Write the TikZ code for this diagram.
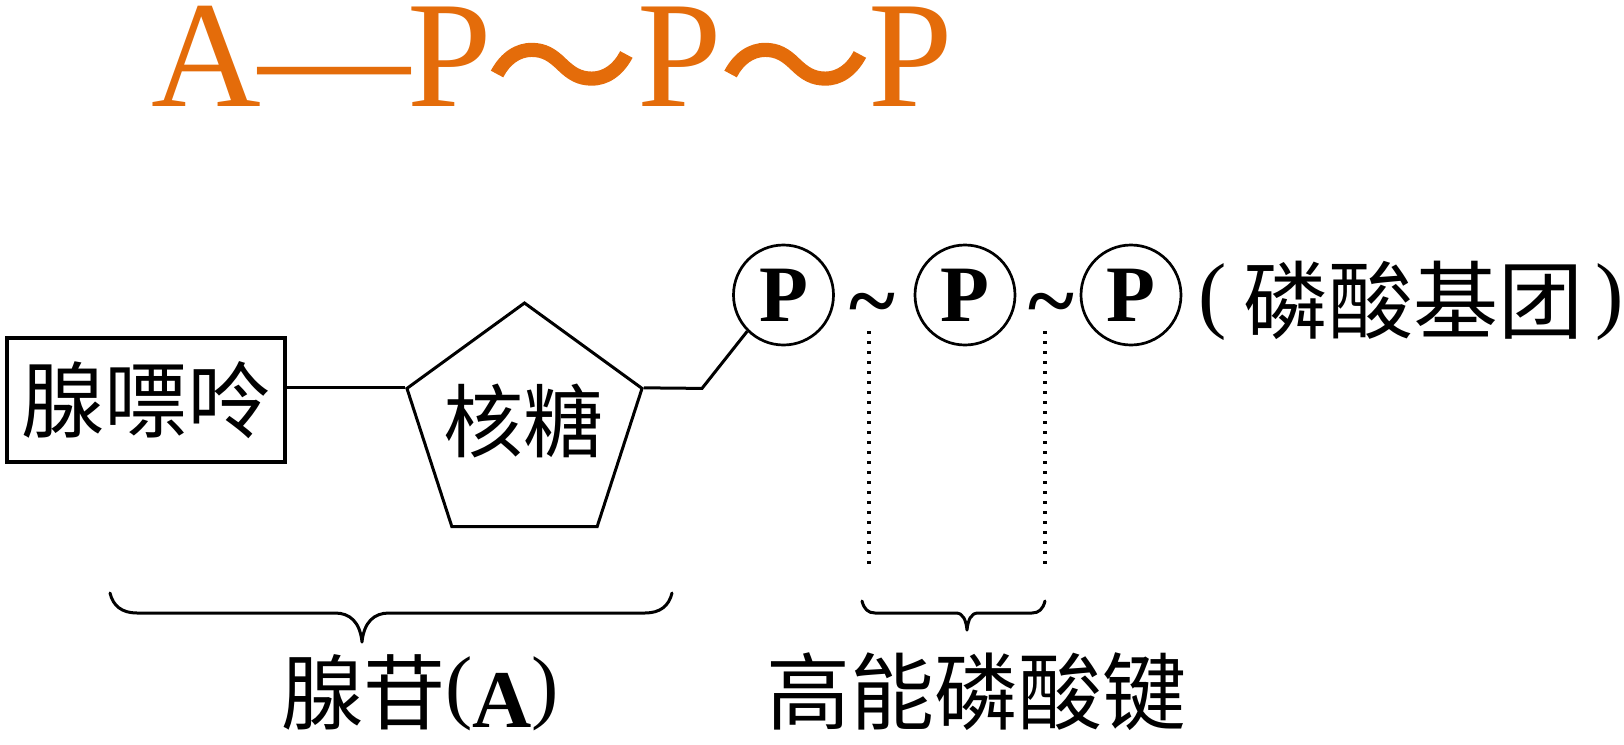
\documentclass[tikz,border=0pt]{standalone}
\usepackage{fontspec}
\setmainfont{Liberation Serif}
\newfontfamily\cjk{Noto Sans CJK SC}
\newfontfamily\cjkheavy[FakeBold=1.2]{Noto Sans CJK SC}
\usetikzlibrary{shapes.geometric}
\definecolor{atporange}{RGB}{228,108,10}
\begin{document}
\begin{tikzpicture}[x=0.5pt,y=-0.5pt,
  conn/.style={line width=1.5pt, line join=miter},
  boxst/.style={draw, line width=1.6pt, minimum width=139pt, minimum height=62pt, inner sep=0pt},
  pentst/.style={draw, line width=1.5pt, regular polygon, regular polygon sides=5, minimum size=123.6pt, inner sep=0pt},
  circp/.style={draw, circle, line width=1.35pt, minimum size=50pt, inner sep=0pt, font=\bfseries\fontsize{40pt}{40pt}\selectfont},
  cjkt/.style={inner sep=0pt, font=\cjk\fontsize{41.5pt}{41.5pt}\selectfont},
  tildest/.style={inner sep=0pt, font=\bfseries\fontsize{44pt}{44pt}\selectfont},
  dotln/.style={line width=1.8pt, line cap=butt, dash pattern=on 1.6pt off 3.4pt},
  bracest/.style={line width=1.5pt, line cap=round, line join=round},
]
\useasboundingbox (0,0) rectangle (1624,745);

% title
\node[anchor=base west, inner sep=0pt, text=atporange, font=\fontsize{76pt}{76pt}\selectfont] (title) at (151,106)
 {A\kern-1.5pt—\kern-1.5pt P\kern-3pt\smash{\cjkheavy\raisebox{-8pt}{～}}P\kern-1.5pt\smash{\cjkheavy\raisebox{-8pt}{～}}\kern-1.5pt P};

% adenine box and ribose pentagon
\node[boxst, cjkt] (ade) at (146,400) {腺嘌呤};
\node[pentst] (rib) at (524.5,426.6) {};
\node[cjkt, font=\cjk\fontsize{40pt}{40pt}\selectfont] (ribt) at (523.5,421) {核糖};

% phosphate groups
\node[circp] (c1) at (783.5,295) {P};
\node[circp] (c2) at (965,295) {P};
\node[circp] (c3) at (1131,295) {P};
\node[tildest] (t1) at (872,312) {\textasciitilde};
\node[tildest] (t2) at (1051,312) {\textasciitilde};
\node[cjkt, anchor=base west, font=\cjk\fontsize{42.5pt}{42.5pt}\selectfont] (pg) at (1198,332)
 {{\rmfamily\raisebox{5pt}{(}}\kern8.5pt 磷酸基团\kern5.75pt{\rmfamily\raisebox{5pt}{)}}};

% connectors
\coordinate (bend) at (702,388.4);
\draw[conn] (rib.corner 2 -| ade.east) -- (rib.corner 2);
\draw[conn] (rib.corner 5) -- (bend) -- (c1.225);

% dotted guides
\coordinate (d1) at (869,568);
\coordinate (d2) at (1045,568);
\draw[dotln] (t1.south -| d1) -- (d1);
\draw[dotln] (t2.south -| d2) -- (d2);

% braces
\draw[bracest] (110,593) .. controls (113,606) and (122,613) .. (137,613) -- (335,613)
  .. controls (350,613) and (360,622) .. (362,642)
  .. controls (364,622) and (374,613) .. (389,613) -- (645,613)
  .. controls (660,613) and (669,606) .. (672,593);
\draw[bracest] (862,601) .. controls (864,609) and (868,613) .. (875,613) -- (956,613)
  .. controls (963,613) and (966,620) .. (967,630)
  .. controls (968,620) and (971,613) .. (978,613) -- (1032,613)
  .. controls (1039,613) and (1043,609) .. (1045,601);

% bottom labels
\node[cjkt, anchor=base west, font=\cjk\fontsize{41pt}{41pt}\selectfont] (adn) at (281,723)
 {腺苷{\rmfamily\raisebox{5pt}{(}{\bfseries\raisebox{-2pt}{A}}\raisebox{5pt}{)}}};
\node[cjkt, font=\cjk\fontsize{42pt}{42pt}\selectfont] (hep) at (976.5,692) {高能磷酸键};
\end{tikzpicture}
\end{document}
